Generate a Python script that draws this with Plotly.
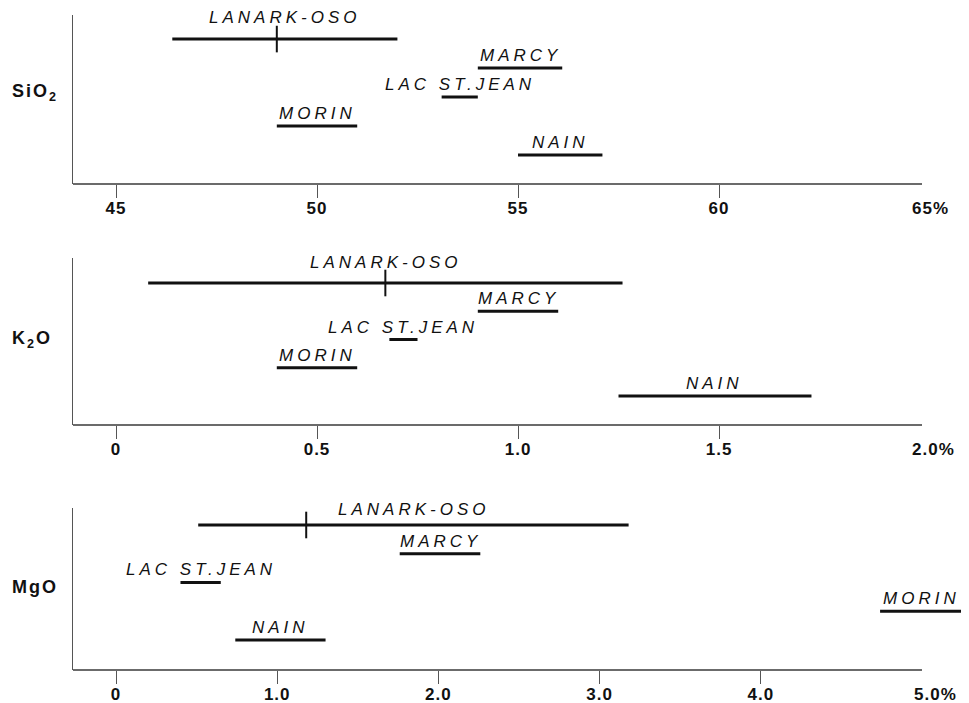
import plotly.graph_objects as go

# ---------------- data ----------------
localities = ["LANARK-OSO", "MARCY", "LAC ST.JEAN", "MORIN", "NAIN"]
rows = [5, 4, 3, 2, 1]          # row level of each locality inside a panel

sio2_low = [46.4, 54.0, 53.1, 49.0, 55.0]
sio2_high = [52.0, 56.1, 54.0, 51.0, 57.1]
sio2_mean = 49.0                # LANARK-OSO mean tick

k2o_low = [0.08, 0.90, 0.68, 0.40, 1.25]
k2o_high = [1.26, 1.10, 0.75, 0.60, 1.73]
k2o_mean = 0.67

mgo_low = [0.51, 1.76, 0.40, 4.74, 0.74]
mgo_high = [3.18, 2.26, 0.65, 5.25, 1.30]
mgo_mean = 1.18

sio2_tickvals = [45, 50, 55, 60]
sio2_ticktext = ["45", "50", "55", "60"]
sio2_end_tick = (65, "65%")

k2o_tickvals = [0, 0.5, 1.0, 1.5]
k2o_ticktext = ["0", "0.5", "1.0", "1.5"]
k2o_end_tick = (2.0, "2.0%")

mgo_tickvals = [0, 1.0, 2.0, 3.0, 4.0]
mgo_ticktext = ["0", "1.0", "2.0", "3.0", "4.0"]
mgo_end_tick = (5.0, "5.0%")

# ---------------- layout geometry ----------------
W, H = 969, 703                 # browser window
PAGE = 8                        # default body margin of the html page
FW, FH = W - PAGE, H - PAGE     # figure size so that it ends at the window edge
FONT = "Liberation Sans, Arial, Helvetica, sans-serif"
INK = "#111111"
AXIS = "#3a3a3a"

X_LEFT, X_RIGHT = 73, 966        # plot area in window pixels (wider than axis line)


def fx(px):
    return (px - PAGE) / FW


def fy(py):
    return 1 - (py - PAGE) / FH


def spaced(text, px):
    return f'<span style="letter-spacing:{px}px">{text}</span>'


panels = [
    dict(name="SiO<sub>2</sub>", low=sio2_low, high=sio2_high, mean=sio2_mean,
         tv=sio2_tickvals, tt=sio2_ticktext, end=sio2_end_tick,
         xr=[43.930, 66.144], axis_end=65.05, yr=[0.0, 5.83],
         ypx=(15, 184), label_y=92, lanark_shift=10),
    dict(name="K<sub>2</sub>O", low=k2o_low, high=k2o_high, mean=k2o_mean,
         tv=k2o_tickvals, tt=k2o_ticktext, end=k2o_end_tick,
         xr=[-0.10697, 2.1144], axis_end=2.005, yr=[-0.0265, 5.885],
         ypx=(258, 425), label_y=339, lanark_shift=9),
    dict(name="MgO", low=mgo_low, high=mgo_high, mean=mgo_mean,
         tv=mgo_tickvals, tt=mgo_ticktext, end=mgo_end_tick,
         xr=[-0.26675, 5.273], axis_end=5.0, yr=[-0.0435, 5.591],
         ypx=(508, 670), label_y=587, lanark_shift=4),
]

fig = go.Figure()
annotations = []
shapes = []
layout_axes = {}

for i, p in enumerate(panels, start=1):
    xa = "x" if i == 1 else f"x{i}"
    ya = "y" if i == 1 else f"y{i}"
    xkey = "xaxis" if i == 1 else f"xaxis{i}"
    ykey = "yaxis" if i == 1 else f"yaxis{i}"

    # range bars
    xs, ys = [], []
    for lo, hi, r in zip(p["low"], p["high"], rows):
        xs += [lo, hi, None]
        ys += [r, r, None]
    fig.add_trace(go.Scatter(x=xs, y=ys, mode="lines", xaxis=xa, yaxis=ya,
                             line=dict(color=INK, width=3),
                             hoverinfo="skip", showlegend=False))
    # mean tick of LANARK-OSO
    fig.add_trace(go.Scatter(x=[p["mean"]], y=[rows[0]], mode="markers",
                             xaxis=xa, yaxis=ya,
                             marker=dict(symbol="line-ns", size=19,
                                         line=dict(width=2, color=INK)),
                             hoverinfo="skip", showlegend=False))

    # locality labels centred above their bars
    for name, lo, hi, r in zip(localities, p["low"], p["high"], rows):
        annotations.append(dict(
            x=(lo + hi) / 2, y=r, xref=xa, yref=ya,
            text=spaced(name, 4), showarrow=False,
            xanchor="center", yanchor="bottom",
            yshift=(p["lanark_shift"] if name == "LANARK-OSO" else 1),
            font=dict(family=FONT, size=17, color=INK, style="italic"),
        ))

    # last tick label (no tick mark in the original)
    annotations.append(dict(
        x=p["end"][0], y=0, xref=xa, yref=f"{ya} domain",
        text=spaced(p["end"][1], 1), showarrow=False,
        xanchor="left", yanchor="top", xshift=-10, yshift=-13,
        font=dict(family=FONT, size=17, color=INK, weight="bold"),
    ))

    # oxide label
    annotations.append(dict(
        x=fx(10), y=fy(p["label_y"]), xref="paper", yref="paper",
        text=spaced(p["name"], 2), showarrow=False,
        xanchor="left", yanchor="middle",
        font=dict(family=FONT, size=18, color=INK, weight="bold"),
    ))

    # x axis line (ends before the right edge of the plotting area)
    shapes.append(dict(type="line", xref=xa, yref=f"{ya} domain",
                       x0=p["xr"][0], x1=p["axis_end"], y0=0, y1=0,
                       line=dict(color=AXIS, width=1.6)))

    layout_axes[xkey] = dict(
        domain=[fx(X_LEFT), fx(X_RIGHT)], range=p["xr"], anchor=ya,
        showline=False, showgrid=False, zeroline=False,
        tickmode="array", tickvals=p["tv"],
        ticktext=[spaced(t, 1) for t in p["tt"]],
        ticks="outside", ticklen=13, tickwidth=1, tickcolor="#555555",
        ticklabelstandoff=-4,
        tickfont=dict(family=FONT, size=17, color=INK, weight="bold"),
        fixedrange=True,
    )
    top, bot = p["ypx"]
    layout_axes[ykey] = dict(
        domain=[fy(bot), fy(top)], range=p["yr"], anchor=xa,
        showline=True, linecolor="#555555", linewidth=1,
        showgrid=False, zeroline=False, showticklabels=False, ticks="",
        fixedrange=True,
    )

fig.update_layout(
    width=FW, height=FH,
    margin=dict(l=0, r=0, t=0, b=0, autoexpand=False),
    paper_bgcolor="white", plot_bgcolor="white",
    showlegend=False,
    annotations=annotations, shapes=shapes,
    font=dict(family=FONT, color=INK),
    **layout_axes,
)

fig.write_html("out.html")
